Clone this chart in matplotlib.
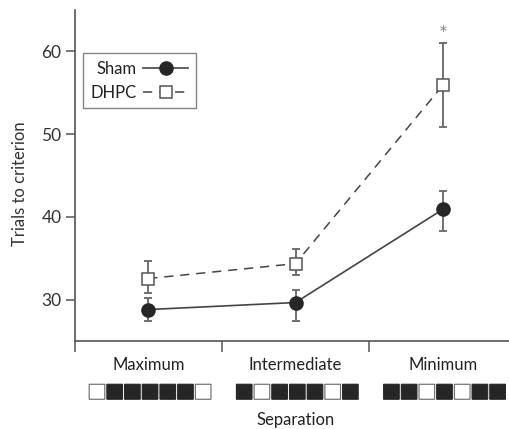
import matplotlib
matplotlib.use("Agg")
import matplotlib.pyplot as plt
from matplotlib.patches import Rectangle
from matplotlib.transforms import blended_transform_factory

plt.rcParams['font.family'] = ['Lato', 'DejaVu Sans']

categories = ["Maximum", "Intermediate", "Minimum"]
sham_mean = [28.8, 29.65, 40.9]
sham_low = [27.4, 27.4, 38.3]
sham_high = [30.2, 31.15, 43.1]
dhpc_mean = [32.55, 34.35, 55.9]
dhpc_low = [30.75, 32.95, 50.9]
dhpc_high = [34.65, 36.1, 61.0]
# 1 = filled, 0 = open
patterns = [
    [0, 1, 1, 1, 1, 1, 0],
    [1, 0, 1, 1, 1, 0, 1],
    [1, 1, 0, 1, 0, 1, 1],
]
yticks = [30, 40, 50, 60]

W, H = 509, 429
fig = plt.figure(figsize=(W / 100, H / 100), dpi=100)
ax = fig.add_axes([74.7 / W, 88 / H, (W - 74.7) / W, 331 / H])

x = list(range(len(categories)))
axis_col = '#555555'
dark = '#262626'

ax.errorbar(x, sham_mean,
            yerr=[[m - l for m, l in zip(sham_mean, sham_low)],
                  [h - m for m, h in zip(sham_mean, sham_high)]],
            fmt='none', ecolor='#666666', elinewidth=1.3, capsize=3, capthick=1.3, zorder=2)
ax.errorbar(x, dhpc_mean,
            yerr=[[m - l for m, l in zip(dhpc_mean, dhpc_low)],
                  [h - m for m, h in zip(dhpc_mean, dhpc_high)]],
            fmt='none', ecolor='#666666', elinewidth=1.3, capsize=3, capthick=1.3, zorder=2)
ax.plot(x, sham_mean, '-', color='#444444', lw=1.2, marker='o', markersize=9.5,
        markerfacecolor=dark, markeredgecolor=dark, label='Sham', zorder=3)
ax.plot(x, dhpc_mean, color='#444444', lw=1.1, linestyle=(0, (6, 4.5)), marker='s',
        markersize=8.5, markerfacecolor='white', markeredgecolor='#555555',
        markeredgewidth=1.1, label='DHPC', zorder=3)

ax.text(2, 62.0, '*', ha='center', va='center', fontsize=15, color='#888888')

ax.set_xlim(-0.5, 2.45)
ax.set_ylim(25, 65)
ax.set_yticks(yticks)
ax.set_xticks([-0.5, 0.5, 1.5])
ax.set_xticklabels([])
ax.tick_params(axis='y', direction='out', length=6.5, width=1.1, color=axis_col,
               labelsize=12.5, labelcolor='#333333', pad=3)
ax.tick_params(axis='x', direction='out', length=8, width=1.1, color=axis_col)
for s in ['top', 'right']:
    ax.spines[s].set_visible(False)
for s in ['left', 'bottom']:
    ax.spines[s].set_color(axis_col)
    ax.spines[s].set_linewidth(1.2)

ax.set_ylabel('Trials to criterion', fontsize=12, color='#333333')
ax.yaxis.set_label_coords(-0.108, 0.475)

leg = ax.legend(loc='upper left', bbox_to_anchor=(0.019, 0.87), borderaxespad=0,
                markerfirst=False, fancybox=False, frameon=True, fontsize=12,
                handlelength=2.7, handletextpad=0.4, borderpad=0.45, labelspacing=0.5)
leg.get_frame().set_edgecolor('#666666')
leg.get_frame().set_linewidth(1.0)
for t in leg.get_texts():
    t.set_color('#222222')

trans = blended_transform_factory(ax.transData, ax.transAxes)
px = 1 / 147.0
pitch = 17.67 * px
bw = 15.6 * px
for i, cat in enumerate(categories):
    ax.text(i, -0.072, cat, transform=trans, ha='center', va='center',
            fontsize=12, color='#222222', clip_on=False)
    pat = patterns[i]
    n = len(pat)
    x0 = i + 0.012 - (n * pitch - (pitch - bw)) / 2
    for j, f in enumerate(pat):
        r = Rectangle((x0 + j * pitch, -0.176), bw, 15 / 331, transform=trans,
                      facecolor=dark if f else 'white',
                      edgecolor=dark if f else '#666666', lw=0.8, clip_on=False,
                      snap=False)
        ax.add_patch(r)

ax.text(1, -0.239, 'Separation', transform=trans, ha='center', va='center',
        fontsize=12, color='#222222', clip_on=False)

fig.savefig('out.png', dpi=100)
